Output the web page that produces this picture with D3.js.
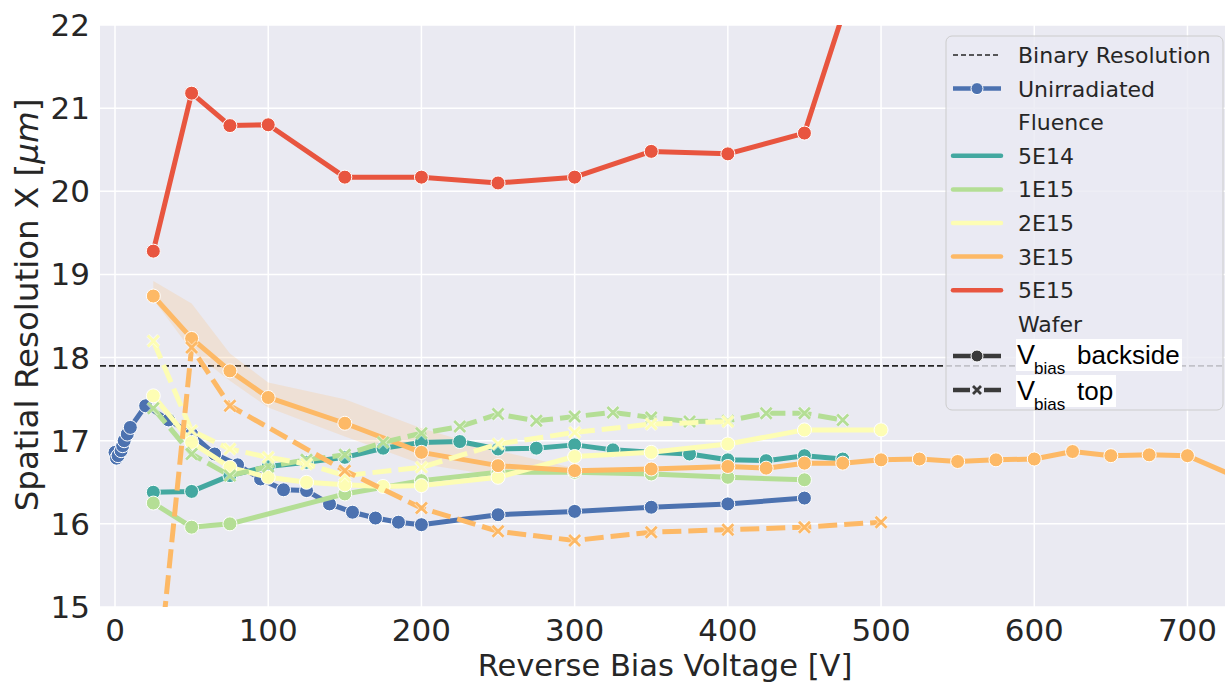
<!DOCTYPE html>
<html>
<head>
<meta charset="utf-8">
<script src="https://cdn.jsdelivr.net/npm/d3@7"></script>
<style>
    body { margin: 0; background: #fff; }
    text { font-family: 'DejaVu Sans', sans-serif; fill: #262626; }
</style>
</head>
<body>
<script>
// tick values
var xTicks = [0, 100, 200, 300, 400, 500, 600, 700];
var yTicks = [15, 16, 17, 18, 19, 20, 21, 22];

// binary resolution (pitch / sqrt 12)
var binaryRes = 17.9;

// unirradiated sensor, backside bias
var unirrV = [0, 1, 2, 4, 5, 6, 8, 10, 20, 35, 50, 65, 80, 95, 110, 125, 140, 155, 170, 185, 200, 250, 300, 350, 400, 450];
var unirrRes = [16.86, 16.79, 16.82, 16.88, 16.94, 17.00, 17.08, 17.16, 17.42, 17.25, 17.08, 16.84, 16.71, 16.54, 16.41, 16.40, 16.24, 16.14, 16.07, 16.02, 15.99, 16.11, 16.15, 16.20, 16.24, 16.31];

// fluence categories
var fluences = ['5E14', '1E15', '2E15', '3E15', '5E15'];
var fluenceColors = ['#43a8a0', '#b4de95', '#fdfdb4', '#fdb966', '#e8553f'];

// backside biased (solid lines)
var back5E14V = [25, 50, 75, 100, 125, 150, 175, 200, 225, 250, 275, 300, 325, 350, 375, 400, 425, 450, 475];
var back5E14Res = [16.38, 16.39, 16.58, 16.69, 16.74, 16.80, 16.91, 16.98, 16.99, 16.90, 16.91, 16.95, 16.89, 16.86, 16.84, 16.77, 16.76, 16.82, 16.78];

var back1E15V = [25, 50, 75, 150, 200, 250, 300, 350, 400, 450];
var back1E15Res = [16.25, 15.96, 16.00, 16.36, 16.52, 16.62, 16.62, 16.60, 16.56, 16.53];

var back2E15V = [25, 50, 75, 100, 125, 150, 175, 200, 250, 300, 350, 400, 450, 500];
var back2E15Res = [17.54, 16.98, 16.68, 16.56, 16.50, 16.47, 16.45, 16.46, 16.56, 16.81, 16.86, 16.96, 17.13, 17.13];

var back3E15V = [25, 50, 75, 100, 150, 200, 250, 300, 350, 400, 425, 450, 475, 500, 525, 550, 575, 600, 625, 650, 675, 700, 750];
var back3E15Res = [18.74, 18.23, 17.84, 17.52, 17.21, 16.86, 16.70, 16.64, 16.66, 16.69, 16.67, 16.73, 16.73, 16.77, 16.78, 16.75, 16.77, 16.78, 16.87, 16.82, 16.83, 16.82, 16.42];

// confidence band of the 3E15 backside series
var band3E15V = [25, 50, 75, 100, 150, 200, 250, 300];
var band3E15Lo = [18.70, 18.08, 17.72, 17.40, 17.05, 16.72, 16.58, 16.62];
var band3E15Hi = [18.92, 18.65, 18.05, 17.70, 17.50, 17.15, 16.88, 16.67];

var back5E15V = [25, 50, 75, 100, 150, 200, 250, 300, 350, 400, 450, 500];
var back5E15Res = [19.28, 21.18, 20.79, 20.80, 20.17, 20.17, 20.10, 20.17, 20.48, 20.45, 20.70, 23.55];

// top biased (dashed lines)
var top1E15V = [25, 50, 75, 100, 125, 150, 175, 200, 225, 250, 275, 300, 325, 350, 375, 400, 425, 450, 475];
var top1E15Res = [17.39, 16.84, 16.58, 16.69, 16.77, 16.83, 16.98, 17.09, 17.17, 17.32, 17.24, 17.29, 17.34, 17.28, 17.23, 17.24, 17.33, 17.33, 17.25];

var top2E15V = [25, 50, 75, 100, 125, 150, 200, 250, 300, 350, 400];
var top2E15Res = [18.20, 17.12, 16.90, 16.80, 16.72, 16.58, 16.68, 16.96, 17.10, 17.20, 17.23];

var top3E15V = [25, 50, 75, 150, 200, 250, 300, 350, 400, 450, 500];
var top3E15Res = [13.6, 18.12, 17.42, 16.64, 16.19, 15.91, 15.80, 15.90, 15.93, 15.96, 16.02];

var width = 1225,
    height = 683;

var plot = {left: 100, top: 25, right: 1225, bottom: 607};

var x = d3.scaleLinear().domain([-9.8, 724.5]).range([plot.left, plot.right]);
var y = d3.scaleLinear().domain([15, 22]).range([plot.bottom, plot.top]);

var svg = d3.select('body').append('svg')
    .attr('width', width)
    .attr('height', height);

svg.append('rect')
    .attr('width', width)
    .attr('height', height)
    .attr('fill', '#fff');

svg.append('clipPath').attr('id', 'plotClip')
    .append('rect')
        .attr('x', plot.left)
        .attr('y', plot.top)
        .attr('width', plot.right - plot.left)
        .attr('height', plot.bottom - plot.top);

// axes background
svg.append('rect')
    .attr('x', plot.left)
    .attr('y', plot.top)
    .attr('width', plot.right - plot.left)
    .attr('height', plot.bottom - plot.top)
    .attr('fill', '#eaeaf2');

// grid
var grid = svg.append('g').attr('stroke', '#fff').attr('stroke-width', 1.5);
grid.selectAll('.gx').data(xTicks).enter().append('line')
    .attr('x1', function(d){ return x(d); })
    .attr('x2', function(d){ return x(d); })
    .attr('y1', plot.top)
    .attr('y2', plot.bottom);
grid.selectAll('.gy').data(yTicks).enter().append('line')
    .attr('x1', plot.left)
    .attr('x2', plot.right)
    .attr('y1', function(d){ return y(d); })
    .attr('y2', function(d){ return y(d); });

// tick labels
svg.append('g').selectAll('text').data(xTicks).enter().append('text')
    .attr('x', function(d){ return x(d); })
    .attr('y', 641)
    .attr('text-anchor', 'middle')
    .style('font-size', '31px')
    .text(function(d){ return d; });

svg.append('g').selectAll('text').data(yTicks).enter().append('text')
    .attr('x', 90)
    .attr('y', function(d){ return y(d) + 11; })
    .attr('text-anchor', 'end')
    .style('font-size', '31px')
    .text(function(d){ return d; });

// axis titles
svg.append('text')
    .attr('x', 665)
    .attr('y', 675.5)
    .attr('text-anchor', 'middle')
    .style('font-size', '30.5px')
    .text('Reverse Bias Voltage [V]');

var yTitle = svg.append('text')
    .attr('transform', 'translate(38,305) rotate(-90)')
    .attr('text-anchor', 'middle')
    .style('font-size', '32.5px');
yTitle.append('tspan').text('Spatial Resolution X [');
yTitle.append('tspan').style('font-style', 'italic').text('\u03bcm');
yTitle.append('tspan').text(']');

var chart = svg.append('g').attr('clip-path', 'url(#plotClip)');

// binary resolution line
chart.append('line')
    .attr('x1', plot.left)
    .attr('x2', plot.right)
    .attr('y1', y(binaryRes))
    .attr('y2', y(binaryRes))
    .attr('stroke', '#262626')
    .attr('stroke-width', 1.6)
    .attr('stroke-dasharray', '6,3');

// 3E15 band
var area = d3.area()
    .x(function(d){ return x(d[0]); })
    .y0(function(d){ return y(d[1]); })
    .y1(function(d){ return y(d[2]); });
chart.append('path')
    .datum(d3.zip(band3E15V, band3E15Lo, band3E15Hi))
    .attr('d', area)
    .attr('fill', fluenceColors[3])
    .attr('fill-opacity', 0.2);

var line = d3.line()
    .x(function(d){ return x(d[0]); })
    .y(function(d){ return y(d[1]); });

var xMarker = 'M-5.5,-5.5L5.5,5.5M-5.5,5.5L5.5,-5.5';

function drawSeries(vs, rs, color, dashed){
    var pts = d3.zip(vs, rs);
    var g = chart.append('g');
    g.append('path')
        .datum(pts)
        .attr('d', line)
        .attr('fill', 'none')
        .attr('stroke', color)
        .attr('stroke-width', 5)
        .attr('stroke-linejoin', 'round')
        .attr('stroke-dasharray', dashed ? '19,7' : null);
    if(dashed){
        g.selectAll('path.m').data(pts).enter().append('path')
            .attr('class', 'm')
            .attr('transform', function(d){ return 'translate(' + x(d[0]) + ',' + y(d[1]) + ')'; })
            .attr('d', xMarker)
            .attr('stroke', '#fff')
            .attr('stroke-width', 4.5)
            .attr('stroke-opacity', 0.5);
        g.selectAll('path.m2').data(pts).enter().append('path')
            .attr('class', 'm2')
            .attr('transform', function(d){ return 'translate(' + x(d[0]) + ',' + y(d[1]) + ')'; })
            .attr('d', xMarker)
            .attr('stroke', color)
            .attr('stroke-width', 2.8);
    } else{
        g.selectAll('circle').data(pts).enter().append('circle')
            .attr('cx', function(d){ return x(d[0]); })
            .attr('cy', function(d){ return y(d[1]); })
            .attr('r', 7)
            .attr('fill', color)
            .attr('stroke', '#fff')
            .attr('stroke-width', 1);
    }
}

drawSeries(unirrV, unirrRes, '#4c72b0', false);

drawSeries(back5E14V, back5E14Res, fluenceColors[0], false);
drawSeries(back1E15V, back1E15Res, fluenceColors[1], false);
drawSeries(back2E15V, back2E15Res, fluenceColors[2], false);
drawSeries(back3E15V, back3E15Res, fluenceColors[3], false);
drawSeries(back5E15V, back5E15Res, fluenceColors[4], false);

drawSeries(top1E15V, top1E15Res, fluenceColors[1], true);
drawSeries(top2E15V, top2E15Res, fluenceColors[2], true);
drawSeries(top3E15V, top3E15Res, fluenceColors[3], true);

// legend
var legend = svg.append('g');
legend.append('rect')
    .attr('x', 946)
    .attr('y', 36)
    .attr('width', 277)
    .attr('height', 374)
    .attr('rx', 6)
    .attr('fill', '#eaeaf2')
    .attr('fill-opacity', 0.8)
    .attr('stroke', '#cccccc')
    .attr('stroke-width', 1);

var rowY = function(i){ return 55 + i * 33.6; };
var hx0 = 953, hx1 = 1001, tx = 1018;

function legendText(i, label){
    legend.append('text')
        .attr('x', tx)
        .attr('y', rowY(i) + 8)
        .style('font-size', '22px')
        .text(label);
}

// binary resolution
legend.append('line')
    .attr('x1', hx0).attr('x2', hx1)
    .attr('y1', rowY(0)).attr('y2', rowY(0))
    .attr('stroke', '#262626')
    .attr('stroke-width', 1.5)
    .attr('stroke-dasharray', '5,3');
legendText(0, 'Binary Resolution');

// unirradiated
legend.append('line')
    .attr('x1', hx0).attr('x2', hx1)
    .attr('y1', rowY(1)).attr('y2', rowY(1))
    .attr('stroke', '#4c72b0')
    .attr('stroke-width', 4.5);
legend.append('circle')
    .attr('cx', (hx0 + hx1) / 2).attr('cy', rowY(1))
    .attr('r', 6).attr('fill', '#4c72b0')
    .attr('stroke', '#fff').attr('stroke-width', 1);
legendText(1, 'Unirradiated');

legendText(2, 'Fluence');
fluences.forEach(function(f, i){
    legend.append('line')
        .attr('x1', hx0).attr('x2', hx1)
        .attr('y1', rowY(i + 3)).attr('y2', rowY(i + 3))
        .attr('stroke', fluenceColors[i])
        .attr('stroke-width', 4.5)
        .attr('stroke-linecap', 'round');
    legendText(i + 3, f);
});

legendText(8, 'Wafer');

// wafer handles
var wy1 = 356, wy2 = 390;
legend.append('line')
    .attr('x1', hx0).attr('x2', hx1)
    .attr('y1', wy1).attr('y2', wy1)
    .attr('stroke', '#3a3a3a').attr('stroke-width', 4.5);
legend.append('circle')
    .attr('cx', (hx0 + hx1) / 2).attr('cy', wy1)
    .attr('r', 6).attr('fill', '#3a3a3a')
    .attr('stroke', '#fff').attr('stroke-width', 1);
legend.append('line')
    .attr('x1', hx0).attr('x2', 970)
    .attr('y1', wy2).attr('y2', wy2)
    .attr('stroke', '#3a3a3a').attr('stroke-width', 4.5);
legend.append('line')
    .attr('x1', 984).attr('x2', hx1)
    .attr('y1', wy2).attr('y2', wy2)
    .attr('stroke', '#3a3a3a').attr('stroke-width', 4.5);
legend.append('path')
    .attr('transform', 'translate(' + ((hx0 + hx1) / 2) + ',' + wy2 + ')')
    .attr('d', 'M-4,-4L4,4M-4,4L4,-4')
    .attr('stroke', '#3a3a3a').attr('stroke-width', 2.8);

// pasted V_bias labels on white
function vbiasLabel(top, label, w){
    legend.append('rect')
        .attr('x', 1016).attr('y', top)
        .attr('width', w).attr('height', 32)
        .attr('fill', '#fff');
    legend.append('text')
        .attr('x', 1017).attr('y', top + 25)
        .style('font-family', "'Liberation Sans', sans-serif")
        .style('font-size', '27px')
        .style('fill', '#000')
        .text('V');
    legend.append('text')
        .attr('x', 1034).attr('y', top + 35)
        .style('font-family', "'Liberation Sans', sans-serif")
        .style('font-size', '17px')
        .style('fill', '#000')
        .text('bias');
    legend.append('text')
        .attr('x', 1077).attr('y', top + 25)
        .style('font-family', "'Liberation Sans', sans-serif")
        .style('font-size', '26px')
        .style('fill', '#000')
        .text(label);
}
vbiasLabel(339, 'backside', 166);
vbiasLabel(375, 'top', 100);
</script>
</body>
</html>
